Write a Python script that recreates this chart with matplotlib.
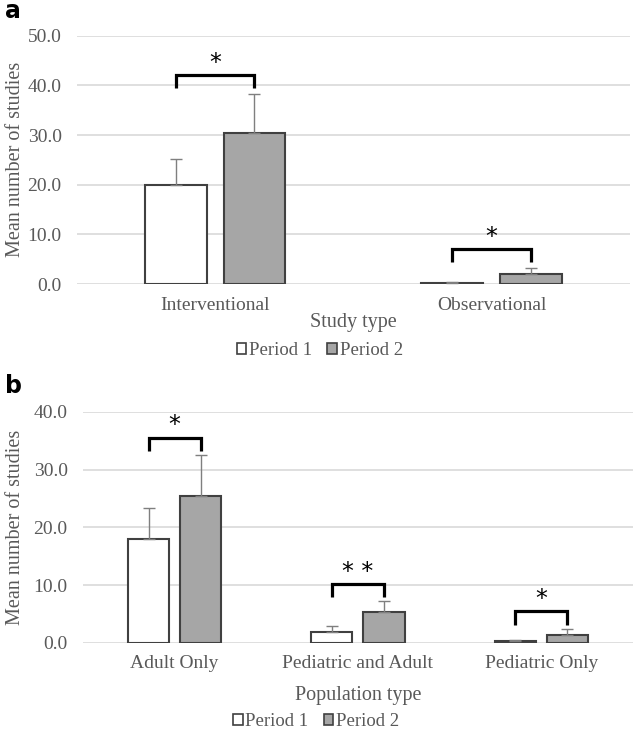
import numpy as np
import matplotlib
matplotlib.use("Agg")
from matplotlib import pyplot as plt
from matplotlib.patches import Patch

# panel a data - study type
study_types = ["Interventional", "Observational"]
study_p1 = [20.0, 0.3]
study_p1_err = [5.2, 0.1]
study_p2 = [30.4, 2.0]
study_p2_err = [7.9, 1.2]
study_sig = ["*", "*"]
study_bracket = [42.0, 7.0]

# panel b data - population type
pop_types = ["Adult Only", "Pediatric and Adult", "Pediatric Only"]
pop_p1 = [18.0, 1.9, 0.3]
pop_p1_err = [5.4, 1.0, 0.3]
pop_p2 = [25.4, 5.3, 1.4]
pop_p2_err = [7.1, 2.0, 1.1]
pop_sig = ["*", "* *", "*"]
pop_bracket = [35.5, 10.2, 5.5]

series_names = ["Period 1", "Period 2"]

TXT = "#595959"
EDGE = "#404040"
GREY = "#a6a6a6"
plt.rcParams["font.family"] = ["Liberation Serif", "DejaVu Serif"]


def panel(ax, cats, v1, e1, v2, e2, sig, brk, ymax, drop, xlab):
    x = np.arange(len(cats))
    off, w = 0.142, 0.224
    err_kw = dict(ecolor="#7f7f7f", elinewidth=1.0, capsize=4, capthick=1.0)
    ax.bar(x - off, v1, w, color="white", edgecolor=EDGE, linewidth=1.5,
           yerr=[np.zeros(len(cats)), e1], error_kw=err_kw, zorder=3)
    ax.bar(x + off, v2, w, color=GREY, edgecolor=EDGE, linewidth=1.5,
           yerr=[np.zeros(len(cats)), e2], error_kw=err_kw, zorder=3)
    # significance brackets
    for i in range(len(cats)):
        xs = [x[i] - off, x[i] - off, x[i] + off, x[i] + off]
        ys = [brk[i] - drop, brk[i], brk[i], brk[i] - drop]
        ax.plot(xs, ys, color="black", lw=2.3, solid_capstyle="butt",
                solid_joinstyle="miter", zorder=4)
        ax.annotate(sig[i], (x[i], brk[i]), xytext=(0, 9), textcoords="offset points",
                    ha="center", va="center", fontsize=17, family="DejaVu Sans",
                    color="black")
    ax.set_xlim(-0.5, len(cats) - 0.5)
    ax.set_ylim(0, ymax)
    ax.set_yticks(np.arange(0, ymax + 0.1, 10))
    ax.set_yticklabels(["%.1f" % t for t in np.arange(0, ymax + 0.1, 10)])
    ax.set_xticks(x)
    ax.set_xticklabels(cats)
    ax.grid(axis="y", color="#d9d9d9", lw=1.2, zorder=0)
    ax.set_axisbelow(True)
    for s in ax.spines.values():
        s.set_visible(False)
    ax.tick_params(axis="both", length=0, colors=TXT, labelsize=14)
    ax.tick_params(axis="x", pad=9)
    ax.tick_params(axis="y", pad=11)
    ax.set_ylabel("Mean number of studies", fontsize=14.5, color=TXT)
    ax.set_xlabel(xlab, fontsize=14.5, color=TXT)


fig = plt.figure(figsize=(6.41, 7.32), dpi=100)

ax1 = fig.add_axes([0.1201, 0.6120, 0.8627, 0.3392])
panel(ax1, study_types, study_p1, study_p1_err, study_p2, study_p2_err,
      study_sig, study_bracket, 50, 2.6, "Study type")
ax1.xaxis.set_label_coords(0.5, -0.115)
ax1.yaxis.set_label_coords(-0.094, 0.5)

ax2 = fig.add_axes([0.1295, 0.1216, 0.858, 0.3156])
panel(ax2, pop_types, pop_p1, pop_p1_err, pop_p2, pop_p2_err,
      pop_sig, pop_bracket, 40, 2.3, "Population type")
ax2.xaxis.set_label_coords(0.5, -0.185)
ax2.yaxis.set_label_coords(-0.105, 0.5)

handles = [Patch(facecolor="white", edgecolor=EDGE, linewidth=1.2),
           Patch(facecolor=GREY, edgecolor=EDGE, linewidth=1.2)]
for loc_y, loc_x in [(0.5205, 0.499), (0.0137, 0.493)]:
    leg = fig.legend(handles, series_names, loc="center", bbox_to_anchor=(loc_x, loc_y),
                     ncol=2, frameon=False, fontsize=13.5, handlelength=0.5,
                     handleheight=0.5, handletextpad=0.15, columnspacing=0.8,
                     borderpad=0, labelcolor=TXT)

fig.text(0.008, 0.985, "a", fontsize=17, fontweight="bold", family="DejaVu Sans",
         va="center", ha="left")
fig.text(0.008, 0.473, "b", fontsize=17, fontweight="bold", family="DejaVu Sans",
         va="center", ha="left")

fig.savefig("out.png", dpi=100)
